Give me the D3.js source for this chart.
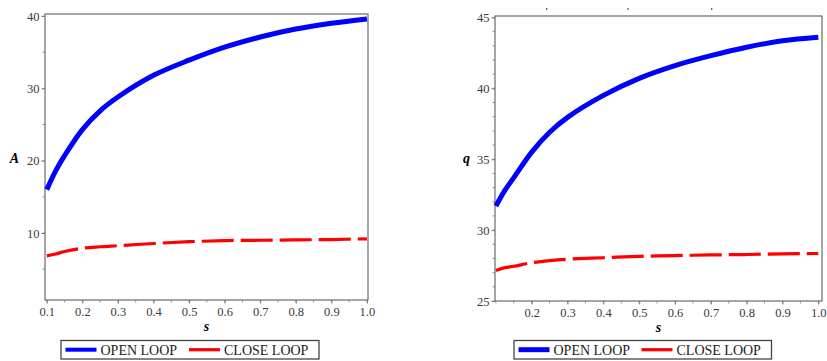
<!DOCTYPE html>
<html>
<head>
<meta charset="utf-8">
<script src="https://cdn.jsdelivr.net/npm/d3@7"></script>
<style>
  body { margin: 0; background: #fff; }
  svg, svg text { font-family: "Liberation Serif", "Times New Roman", Times, Tinos, "DejaVu Serif", "Noto Serif", serif; }
</style>
</head>
<body>
<svg id="chart" width="827" height="361"></svg>
<script>
const FONT = "'Liberation Serif', 'Times New Roman', Times, Tinos, 'DejaVu Serif', serif";

const sValues = [0.1, 0.125, 0.15, 0.2, 0.25, 0.3, 0.4, 0.5, 0.6, 0.7, 0.8, 0.9, 1.0];

// left panel: A
const openA  = [16.0, 18.6, 20.7, 24.3, 26.9, 28.8, 31.8, 33.9, 35.7, 37.1, 38.2, 39.0, 39.6];
const closeA = [6.85, 7.1, 7.45, 7.9, 8.1, 8.25, 8.55, 8.8, 8.95, 9.0, 9.05, 9.1, 9.2];

// right panel: q
const openQ  = [31.7, 32.8, 33.7, 35.5, 36.9, 37.95, 39.5, 40.7, 41.6, 42.3, 42.9, 43.35, 43.6];
const closeQ = [27.15, 27.35, 27.45, 27.7, 27.85, 27.95, 28.05, 28.15, 28.2, 28.25, 28.28, 28.33, 28.35];

const xTicksA = [0.1, 0.2, 0.3, 0.4, 0.5, 0.6, 0.7, 0.8, 0.9, 1.0];
const yTicksA = [10, 20, 30, 40];
const xTicksQ = [0.2, 0.3, 0.4, 0.5, 0.6, 0.7, 0.8, 0.9, 1.0];
const yTicksQ = [25, 30, 35, 40, 45];

const legendLabels = ["OPEN LOOP", "CLOSE LOOP"];

const svg = d3.select("#chart");

function drawPanel(opt) {
  const x = d3.scaleLinear().domain(opt.xDomain).range([opt.left, opt.right]);
  const y = d3.scaleLinear().domain(opt.yDomain).range([opt.bottom, opt.top]);
  const g = svg.append("g");

  // frame
  g.append("rect")
    .attr("x", opt.left).attr("y", opt.top)
    .attr("width", opt.right - opt.left).attr("height", opt.bottom - opt.top)
    .attr("fill", "none").attr("stroke", "#6a6a6a").attr("stroke-width", 1.2);

  // minor ticks
  const xMinor = d3.range(0.1, 1.0001, 0.05);
  g.append("g").selectAll("line").data(xMinor).join("line")
    .attr("x1", d => x(d)).attr("x2", d => x(d))
    .attr("y1", opt.bottom).attr("y2", opt.bottom + 2.5)
    .attr("stroke", "#777").attr("stroke-width", 0.8);
  const yMinor = d3.range(opt.yMinor[0], opt.yMinor[1] + 0.001, opt.yMinor[2]);
  g.append("g").selectAll("line").data(yMinor).join("line")
    .attr("x1", opt.left - 2.5).attr("x2", opt.left)
    .attr("y1", d => y(d)).attr("y2", d => y(d))
    .attr("stroke", "#777").attr("stroke-width", 0.8);

  // axes
  const xAxis = g.append("g").attr("transform", `translate(0,${opt.bottom})`)
    .call(d3.axisBottom(x).tickValues(opt.xTicks).tickFormat(d3.format(".1f")).tickSize(3.5).tickPadding(4));
  const yAxis = g.append("g").attr("transform", `translate(${opt.left},0)`)
    .call(d3.axisLeft(y).tickValues(opt.yTicks).tickFormat(d3.format("d")).tickSize(3.5).tickPadding(2));
  [xAxis, yAxis].forEach(a => {
    a.attr("font-family", FONT);
    a.select(".domain").remove();
    a.selectAll(".tick line").attr("stroke", "#777");
    a.selectAll(".tick text")
      .attr("fill", "#3a3a3a")
      .style("font-family", FONT)
      .style("font-size", "12.5px");
  });

  // axis titles
  g.append("text")
    .attr("x", (opt.left + opt.right) / 2).attr("y", opt.bottom + 31)
    .attr("text-anchor", "middle")
    .style("font-family", FONT)
    .style("font-size", "14px").style("font-weight", "bold").style("font-style", "italic")
    .text("s");
  g.append("text")
    .attr("x", opt.yTitleX).attr("y", 163)
    .attr("text-anchor", "middle")
    .style("font-family", FONT)
    .style("font-size", "14px").style("font-weight", "bold").style("font-style", "italic")
    .text(opt.yTitle);

  const line = d3.line().x((d, i) => x(sValues[i])).y(d => y(d)).curve(d3.curveCatmullRom.alpha(0.5));

  g.append("path").datum(opt.close)
    .attr("d", line).attr("fill", "none")
    .attr("stroke", "#ff0000").attr("stroke-width", 3.2)
    .attr("stroke-dasharray", "32,7");
  g.append("path").datum(opt.open)
    .attr("d", line).attr("fill", "none")
    .attr("stroke", "#0000ff").attr("stroke-width", 5);

  // legend
  const lg = g.append("g");
  lg.append("rect")
    .attr("x", opt.legX).attr("y", 340.5).attr("width", opt.legW).attr("height", 18.5)
    .attr("fill", "#fff").attr("stroke", "#444").attr("stroke-width", 1.3);
  const items = [
    { label: legendLabels[0], color: "#0000ff", w: opt.legBlueW },
    { label: legendLabels[1], color: "#ff0000", w: 3.2 }
  ];
  items.forEach((it, i) => {
    const x0 = opt.legX + (i === 0 ? 4.5 : opt.legSecond);
    lg.append("line")
      .attr("x1", x0).attr("x2", x0 + 31)
      .attr("y1", 349.7).attr("y2", 349.7)
      .attr("stroke", it.color).attr("stroke-width", it.w);
    lg.append("text")
      .attr("x", x0 + 35).attr("y", 355.2)
      .attr("fill", "#222")
      .style("font-family", FONT)
      .style("font-size", "14px")
      .text(it.label);
  });
}

drawPanel({
  left: 45, right: 368, top: 14, bottom: 300,
  xDomain: [0.095, 1.003], yDomain: [0.74, 40.28],
  xTicks: xTicksA, yTicks: yTicksA, yMinor: [5, 40, 5],
  yTitle: "A", yTitleX: 14.5,
  open: openA, close: closeA,
  legX: 61, legW: 258, legSecond: 128, legBlueW: 4
});

drawPanel({
  left: 495, right: 822, top: 16, bottom: 301,
  xDomain: [0.0975, 1.0103], yDomain: [25, 45.1],
  xTicks: xTicksQ, yTicks: yTicksQ, yMinor: [25, 45, 1],
  yTitle: "q", yTitleX: 466.5,
  open: openQ, close: closeQ,
  legX: 514, legW: 257.5, legSecond: 127.5, legBlueW: 5
});

// faint marks left above the right panel
svg.append("g").selectAll("rect").data([546.7, 628, 711.7]).join("rect")
  .attr("x", d => d - 0.6).attr("y", 8).attr("width", 1.2).attr("height", 2)
  .attr("fill", "#555");
</script>
</body>
</html>
